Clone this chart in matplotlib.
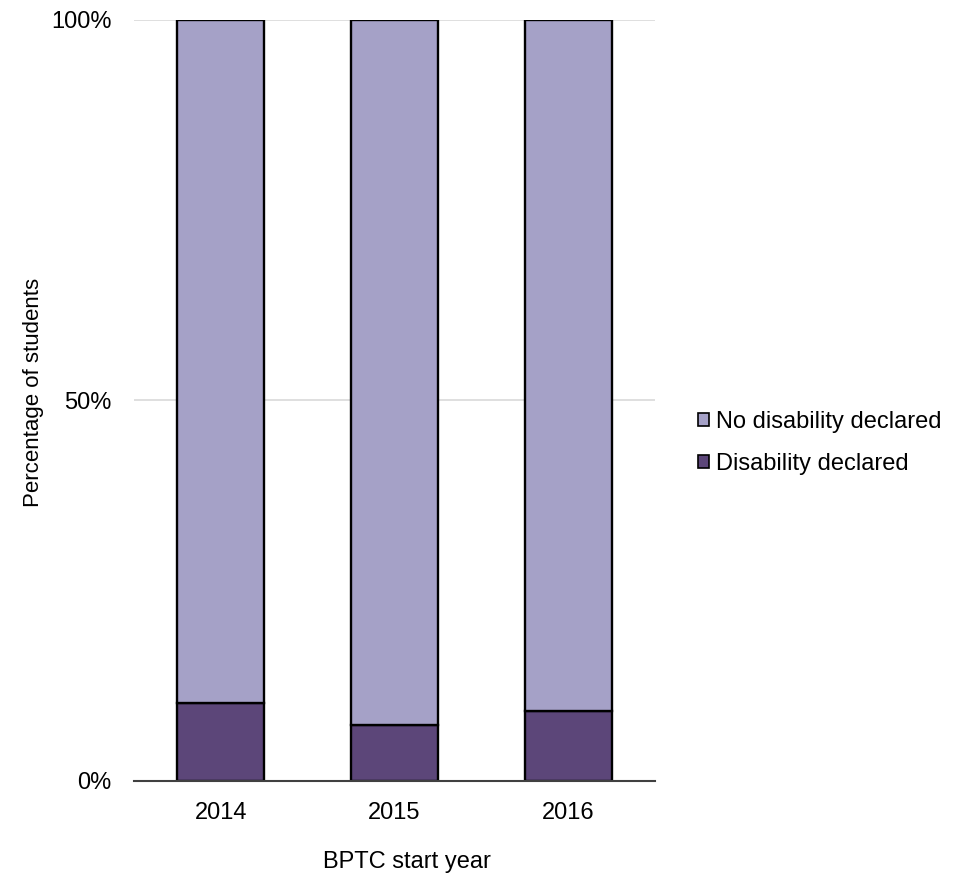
import matplotlib
matplotlib.use("Agg")
import matplotlib.pyplot as plt
from matplotlib.ticker import FuncFormatter
from matplotlib.patches import Patch

plt.rcParams['font.family'] = ['Liberation Sans', 'DejaVu Sans']

years = ["2014", "2015", "2016"]
disability = [10.25, 7.4, 9.2]
no_disability = [100 - v for v in disability]
series_names = ["Disability declared", "No disability declared"]
colors = ["#5C4679", "#A5A1C7"]
yticks = [0, 50, 100]

fig = plt.figure(figsize=(9.62, 8.77), dpi=100)
ax = fig.add_axes([0.1393, 0.1095, 0.5417, 0.8677])

x = range(len(years))
ax.bar(x, disability, width=0.5, color=colors[0], edgecolor="black", linewidth=1.7, zorder=3)
ax.bar(x, no_disability, bottom=disability, width=0.5, color=colors[1], edgecolor="black", linewidth=1.7, zorder=3)

ax.set_xlim(-0.5, 2.5)
ax.set_ylim(0, 100)
ax.set_yticks(yticks)
ax.yaxis.set_major_formatter(FuncFormatter(lambda v, p: f"{int(v)}%"))
ax.set_xticks(list(x))
ax.set_xticklabels(years)
ax.grid(axis="y", color="#D9D9D9", linewidth=1.2, zorder=0)
ax.set_axisbelow(True)
for s in ["top", "right", "left"]:
    ax.spines[s].set_visible(False)
ax.spines["bottom"].set_color("#404040")
ax.spines["bottom"].set_linewidth(1.5)
ax.spines["bottom"].set_zorder(4)
ax.tick_params(length=0, labelsize=17, colors="#000000")
ax.tick_params(axis="x", pad=15)
ax.tick_params(axis="y", pad=16)

ax.set_ylabel("Percentage of students", fontsize=16)
ax.yaxis.set_label_coords(-0.173, 0.51)
ax.set_xlabel("BPTC start year", fontsize=17)
ax.xaxis.set_label_coords(0.524, -0.092)

handles = [Patch(facecolor=colors[1], edgecolor="black", linewidth=1.2),
           Patch(facecolor=colors[0], edgecolor="black", linewidth=1.2)]
fig.legend(handles, [series_names[1], series_names[0]], loc="center left",
           bbox_to_anchor=(0.703, 0.495), frameon=False, fontsize=17,
           handlelength=0.5, handleheight=0.5, handletextpad=0.3, labelspacing=0.85)

fig.savefig("out.png", dpi=100)
